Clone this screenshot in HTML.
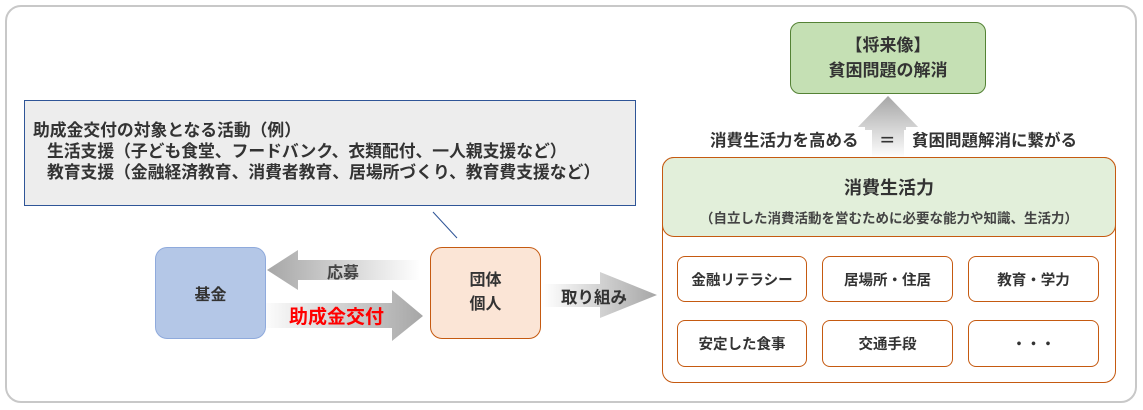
<!DOCTYPE html><html><head><meta charset="utf-8"><style>
body{margin:0;width:1143px;height:410px;background:#fff;position:relative;overflow:hidden;font-family:"Liberation Sans","Noto Sans CJK JP",sans-serif;color:#333}
.a{position:absolute;box-sizing:border-box}
.c{display:flex;align-items:center;justify-content:center;text-align:center}
.sb{border:1px solid #c55a11;border-radius:8px;background:#fff;font-size:14.5px;font-weight:bold}
</style></head><body>
<div class="a" style="left:5px;top:5px;width:1132px;height:398px;border:2px solid #c8c8c8;border-radius:16px"></div>
<div class="a c" style="left:790px;top:22px;width:196px;height:72px;background:#c5e0b4;border:1px solid #548235;border-radius:10px;font-size:17px;font-weight:bold;line-height:25px">【将来像】<br>貧困問題の解消</div>
<svg class="a" style="left:0;top:0" width="1143" height="410">
<defs>
<linearGradient id="gu" x1="0" y1="0" x2="0" y2="1"><stop offset="0" stop-color="#a6a6a6"/><stop offset="1" stop-color="#fff"/></linearGradient>
<linearGradient id="gl" x1="0" y1="0" x2="1" y2="0"><stop offset="0" stop-color="#a6a6a6"/><stop offset="1" stop-color="#fff"/></linearGradient>
<linearGradient id="gr" x1="0" y1="0" x2="1" y2="0"><stop offset="0" stop-color="#fff"/><stop offset="1" stop-color="#a6a6a6"/></linearGradient>
</defs>
<polygon points="888,96 921,130 904,130 904,158 872,158 872,130 855,130" fill="url(#gu)"/>
<polygon points="267,270 298,250 298,260 420,260 420,280 298,280 298,290" fill="url(#gl)"/>
<polygon points="260,303 392,303 392,290 423,316 392,341 392,328 260,328" fill="url(#gr)"/>
<polygon points="543,284 600,284 600,272 657,295 600,318 600,307 543,307" fill="url(#gr)"/>
<line x1="433" y1="212" x2="457" y2="238" stroke="#2f5597" stroke-width="1"/>
</svg>
<div class="a" style="left:704px;top:127px;font-size:16.5px;font-weight:bold;background:#fff;padding:0 6px">消費生活力を高める</div>
<div class="a" style="left:879px;top:127px;font-size:16.5px;font-weight:bold">＝</div>
<div class="a" style="left:906px;top:127px;font-size:16.5px;font-weight:bold;background:#fff;padding:0 6px">貧困問題解消に繋がる</div>
<div class="a" style="left:662px;top:157px;width:454px;height:226px;border:1px solid #c55a11;border-radius:12px;background:#fff"></div>
<div class="a" style="left:662px;top:157px;width:454px;height:80px;border:1px solid #c55a11;border-radius:12px;background:#e2efda;text-align:center">
<div style="font-size:18px;font-weight:bold;margin-top:16px">消費生活力</div>
<div style="font-size:13.5px;margin-top:7px;font-weight:bold;color:#444">（自立した消費活動を営むために必要な能力や知識、生活力）</div></div>
<div class="a c sb" style="left:677px;top:256px;width:130px;height:46px">金融リテラシー</div>
<div class="a c sb" style="left:822px;top:256px;width:131px;height:46px">居場所・住居</div>
<div class="a c sb" style="left:968px;top:256px;width:131px;height:46px">教育・学力</div>
<div class="a c sb" style="left:677px;top:320px;width:130px;height:47px">安定した食事</div>
<div class="a c sb" style="left:822px;top:320px;width:131px;height:47px">交通手段</div>
<div class="a c sb" style="left:968px;top:320px;width:131px;height:47px">・・・</div>
<div class="a" style="left:24px;top:100px;width:612px;height:106px;background:#ededed;border:1px solid #2f5597;font-size:16.8px;line-height:21px;padding:19px 0 0 8px;font-weight:bold;color:#333;white-space:nowrap">助成金交付の対象となる活動（例）<br>&nbsp;&nbsp;&nbsp;生活支援（子ども食堂、フードバンク、衣類配付、一人親支援など）<br>&nbsp;&nbsp;&nbsp;教育支援（金融経済教育、消費者教育、居場所づくり、教育費支援など）</div>
<div class="a c" style="left:155px;top:247px;width:111px;height:92px;background:#b4c7e7;border:1px solid #8faadc;border-radius:12px;font-size:16px;font-weight:bold">基金</div>
<div class="a c" style="left:430px;top:247px;width:111px;height:92px;background:#fbe5d6;border:1px solid #c55a11;border-radius:12px;font-size:16px;font-weight:bold;line-height:24px">団体<br>個人</div>
<div class="a" style="left:327px;top:259px;font-size:16px;font-weight:bold;color:#444">応募</div>
<div class="a" style="left:289px;top:302px;font-size:19px;font-weight:bold;color:#f00">助成金交付</div>
<div class="a" style="left:561px;top:284px;font-size:16.5px;font-weight:bold;color:#333">取り組み</div>
</body></html>
